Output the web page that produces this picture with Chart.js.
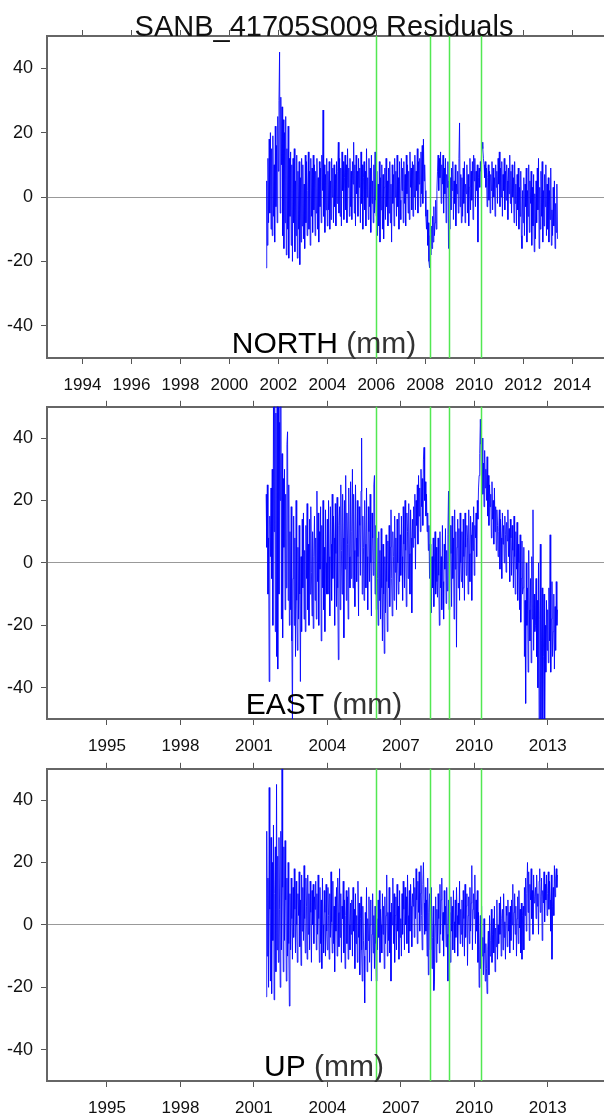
<!DOCTYPE html>
<html>
<head>
<meta charset="utf-8">
<script src="https://cdn.jsdelivr.net/npm/chart.js@4.4.1/dist/chart.umd.min.js"></script>
<style>
  html, body { margin: 0; padding: 0; background: #fff; }
  body { width: 604px; height: 1116px; position: relative; overflow: hidden; }
  canvas { position: absolute; left: 0; }
</style>
</head>
<body>
<canvas id="north" width="604" height="396" style="top:0px;width:604px;height:396px"></canvas>
<canvas id="east" width="604" height="370" style="top:388px;width:604px;height:370px"></canvas>
<canvas id="up" width="604" height="366" style="top:750px;width:604px;height:366px"></canvas>
<script>
const title = 'SANB_41705S009 Residuals';
const startYear = 2001.5;
const stepYear = 0.025;
const eventYears = [2006.0, 2008.2, 2008.98, 2010.29];
const northTicks = [1994, 1996, 1998, 2000, 2002, 2004, 2006, 2008, 2010, 2012, 2014];
const eastUpTicks = [1995, 1998, 2001, 2004, 2007, 2010, 2013];
const yTicks = [-40, -20, 0, 20, 40];

// residuals in mm, one row per half year
const northValues = [
  -22, 5, -15, 12, -8, 18, -5, 20, -10, 15, -12, 19, -6, 10, -14, 22, -3, 16, -8, 25,
  8, 30, 45, -5, 31, 10, 28, -12, 24, -16, 20, -8, 25, -18, 15, -10, 22, -19, 12, -6,
  14, -15, 10, -20, 12, -8, 15, -17, 5, -12, 13, -19, 8, -10, 11, -21, 6, -14, 12, -9,
  10, -13, 4, -16, 13, -8, 11, -12, 2, 14, -10, 8, -15, 12, -6, 9, -11, 13, -4, 10,
  -12, 8, -5, 12, -10, 6, -14, 11, -3, 9, -8, 13, 2, 27, -6, 10, -11, 7, -4, 12,
  -9, 8, -4, 11, -10, 5, -7, 12, 0, 9, -8, 10, -3, 7, -9, 11, -2, 8, 17, -5,
  12, -6, 9, -9, 14, 2, 11, -7, 6, 13, -4, 10, -8, 15, 3, 9, -6, 12, -3, 8,
  -7, 11, 4, 17, -5, 10, -9, 13, 1, 8, -6, 12, 3, 9, -8, 14, -2, 10, -10, 6,
  11, -4, 8, -9, 15, 0, 6, -7, 12, -3, 9, -11, 13, -2, 5, -8, 10, -5, 14, -1,
  -6, 8, -12, 4, -9, 11, -14, 6, -4, 10, -10, 7, -13, 3, 9, -7, 12, -3, 5, -9,
  9, -5, 11, -8, 4, -14, 10, -2, 7, -9, 12, 0, 8, -6, 13, -3, 6, -10, 11, -1,
  -7, 12, 2, 9, -8, 11, -2, 7, -9, 13, 1, 10, -5, 8, -7, 14, 3, 9, -4, 11,
  -6, 10, 0, 13, -4, 8, 2, 15, -5, 11, 4, 12, -3, 14, 1, 16, -2, 18, 5, 10,
  2, -6, -10, -4, -15, -8, -20, -22, -12, -18, -9, -16, -6, -14, -3, -12, -8, -1, -10, 2,
  8, 13, 2, 12, 6, 14, -2, 10, 4, 13, -5, 9, 1, 12, -8, 7, 3, 11, -16, 5,
  -10, 6, -4, 9, 2, 11, -7, 5, -2, 10, -9, 4, 1, 8, -5, 12, 23, -3, 7, -8,
  6, -6, 9, -2, 11, -8, 4, 1, 10, -5, 7, -9, 3, 12, -4, 8, -1, 11, -7, 13,
  5, 12, -3, 8, 2, 10, -14, 6, 9, 3, 11, 8, 14, 17, 15, 12, 10, 6, 11, 3,
  9, -3, 6, 10, -1, 8, -5, 7, 2, 11, -4, 9, 0, 6, -6, 10, 3, 8, -2, 12,
  4, 14, -3, 9, 0, 11, -6, 7, 2, 12, -4, 8, -1, 10, 5, -7, 9, 1, 13, -2,
  8, -5, 10, 0, 6, -8, 11, -2, 4, -9, 7, -4, 9, -10, 3, -6, 8, -12, -16, 2,
  -8, 6, -12, 4, -3, 9, -14, 2, -6, 10, -11, 5, -2, 8, -15, 3, -9, 7, -17, 1,
  -13, 5, -8, 9, -4, 12, -16, 3, -10, 8, -6, 11, -14, 2, -9, 7, -3, 10, -12, 4,
  -10, 6, -14, 2, -7, 9, -15, -4, -12, 3, -9, 5, -16, -2, -11, 4, -13
];

const eastValues = [
  22, 5, 25, -10, 8, -38, 15, 2, 24, -5, 30, -20, 50, 10, 55, -22, 48, -30, 52, -34,
  50, -10, 45, 20, 52, -18, 35, -24, 27, 5, 30, -15, 22, -8, 38, 42, -12, 25, -20, 10,
  -15, 18, -25, -50, -5, 15, -20, 8, -30, 20, -12, -28, 5, -18, 12, -10, -38, 2, -22, 14,
  -8, 16, -18, 4, -22, 12, -5, 19, -15, 6, -20, 14, -10, 18, -3, -17, 10, -21, 2, 15,
  -12, 8, -18, 23, -6, 16, -20, 10, -2, 18, -25, 12, -8, 20, -15, 5, -22, 17, 0, -10,
  14, -10, 20, 2, -17, 18, 6, -12, 22, -5, 15, 8, -20, 19, 3, -14, 21, -8, -31, 12,
  18, -15, 25, 4, -10, 22, 8, -24, 20, -2, 28, -12, 16, 6, -18, 24, 2, -8, 26, -5,
  10, 30, -8, 22, 4, -14, 25, 8, -6, 20, 2, -17, 18, 12, -4, 23, 40, -10, 15, 5,
  -12, 20, 6, -8, 24, 2, -15, 18, 10, -6, 22, 0, -17, 16, 8, -4, 25, 28, -10, 12,
  -15, 8, -5, -20, 10, -12, 4, -18, 11, -8, -25, 6, -10, -29, 2, -16, 9, -6, -22, 7,
  -8, 12, -14, 5, 17, -5, -17, 10, 2, -12, 15, -3, 8, -15, 14, 0, -10, 16, -6, 9,
  -4, 15, 2, -12, 18, 6, -8, 20, 4, -14, 16, 10, -5, 19, 3, -10, 17, 8, -16, 14,
  5, 18, 8, 22, -2, 20, 12, 25, 6, 28, 15, 24, 10, 30, 18, 27, 12, 33, 37, 20,
  26, 15, 22, 10, 16, 4, 12, -5, 6, -12, -16, 2, -8, 8, -14, 0, 10, -10, 5, -6,
  -11, 8, -4, -20, 10, -8, 2, -15, 12, -6, -18, 6, -2, 11, -13, 4, -9, 9, 23, -15,
  -10, 12, 3, -14, 15, -5, 8, -18, 17, -2, 10, -27, 5, 14, -8, 11, -12, 16, 0, -6,
  10, -8, 14, 2, -12, 16, 5, -4, 12, 8, -10, 17, 3, -6, 15, 9, -12, 13, 4, 18,
  -4, 12, 8, 16, 2, 20, 14, 24, 28, 35, 46, 38, 25, 40, 22, 32, 18, 36, 24, 30,
  20, 34, 15, 28, 12, 25, 18, 22, 8, 26, 14, 20, 6, 24, 10, 18, 4, 17, 12, 2,
  10, 17, -2, 14, 8, -5, 16, 6, 12, 0, 15, 9, -3, 13, 7, 17, 2, 11, -6, 14,
  8, -4, 12, 4, -8, 15, 2, -10, 10, -2, 13, -12, 6, 0, -15, 9, -19, -5, 7, -10,
  -8, 5, -30, -12, -45, 0, -20, -8, -35, 4, -15, -25, -5, -32, 2, -18, 17, -28, -10, -22,
  -20, -5, -30, -12, -40, 0, -50, -18, 6, -52, -25, -8, -50, -30, -10, -55, -20, -35, -12, -28,
  -15, -32, -8, -25, 9, -35, -18, -6, -30, -22, -10, -34, -14, -28, -6, -20, -15
];

const upValues = [
  -23, 30, -10, 15, -20, 44, 5, -18, 28, -22, 20, -5, 32, -24, 10, 25, -15, 45, -8, 22,
  -12, 28, 5, -20, 30, -8, 50, 12, -15, 25, -5, 27, 8, -18, 15, -10, 20, -6, -26, 10,
  -8, 15, 2, -11, 12, -4, 18, 5, -9, 14, 0, -12, 10, 3, 17, -7, 8, -13, 16, -2,
  12, -5, 19, 2, -9, 15, 6, -11, 16, -3, 10, -8, 14, 4, -12, 11, 0, 13, -6, 9,
  5, 14, -8, 10, -3, 16, 2, -12, 12, -6, 8, -14, 15, 0, -9, 11, 4, -10, 13, -2,
  -8, 12, 3, -11, 10, -4, 17, 1, -9, 14, -6, 6, -15, 9, -2, 12, -10, 15, 4, -7,
  18, -4, 10, -12, 6, 2, 14, -9, 8, -14, 3, 11, -6, 9, -11, 12, 0, -8, 7, -3,
  8, -10, 12, -2, 5, -14, 10, -6, 3, -12, 14, -4, 7, -16, 2, 9, -8, -18, 6, -5,
  -10, -25, 4, -8, 12, -15, 2, -5, 9, -12, 0, 8, -18, -3, 10, -9, 3, -14, 6, -6,
  -18, 2, -8, 8, -4, 11, -12, 5, 0, -9, 10, -3, 6, -14, 9, -6, 3, 16, -10, 4,
  -5, 12, -9, 4, -18, 7, 0, 15, -6, 10, -12, 3, 9, -8, 13, -2, 6, -11, 11, -4,
  2, -10, 10, -3, 14, 5, -8, 12, 0, 9, -6, 16, 3, -9, 11, -2, 13, 6, -7, 10,
  6, 15, -4, 12, 2, 18, 8, -6, 14, 4, 17, -2, 10, 19, 3, -8, 13, 20, 7, -3,
  12, -2, 8, -10, 15, -16, 4, 10, -8, 2, 12, -14, -4, 6, -21, -18, 0, 9, -12, 5,
  -6, 10, 2, -9, 13, -3, 8, 15, -5, 4, -10, 11, 0, 6, -7, 12, -3, -18, 8, -4,
  4, -12, 9, -2, 6, -8, 11, 1, -9, 8, -4, 12, 3, -10, 7, 0, 14, -6, 5, -3,
  8, -7, 11, 2, -10, 13, -4, 6, 10, -13, 3, 9, -6, 12, -2, 7, 19, -8, 5, 10,
  2, 16, -6, 8, -2, 11, -12, 4, -20, -8, 3, -14, 6, -10, -4, -16, 2, -9, -18, -6,
  -14, -22, -8, -2, -16, 3, -10, -5, 5, -12, -3, 2, -9, 6, -15, -1, -7, 8, -11, 0,
  -6, 7, -3, 9, -10, 2, 5, -8, 10, -4, 1, -11, 6, 3, -7, 8, -2, 4, -9, 6,
  -5, 8, 0, 13, -8, 4, 10, -3, 6, -10, 2, 9, -6, 11, -1, 5, -9, 7, -11, 3,
  6, -8, 12, 3, 15, -2, 10, 20, 4, 17, -5, 13, 8, 18, 2, 11, -3, 16, 7, 9,
  12, 2, 16, 6, 10, -3, 14, 18, 4, 9, 15, -5, 11, 7, 17, 1, 13, 8, 16, 3,
  10, 17, 5, 14, 8, -2, 16, -11, 6, 12, 3, 19, 9, 15, 18, 12, 16
];

const FONT = '"Liberation Sans", Arial, Helvetica, sans-serif';

function toPoints(values) {
  return values.map((v, i) => ({ x: startYear + i * stepYear, y: v }));
}

function makePanel(id, values, xTicks, name, topH, bottomH, withTitle) {
  const deco = {
    id: 'deco',
    afterDatasetsDraw(chart) {
      const { ctx, chartArea: a, scales } = chart;
      const x = scales.x;
      ctx.save();
      // event lines
      ctx.strokeStyle = '#52e852';
      ctx.lineWidth = 1.5;
      eventYears.forEach(yr => {
        const px = Math.round(x.getPixelForValue(yr)) + 0.5;
        ctx.beginPath();
        ctx.moveTo(px, a.top);
        ctx.lineTo(px, a.bottom);
        ctx.stroke();
      });
      // component label
      ctx.font = '30px ' + FONT;
      ctx.textBaseline = 'alphabetic';
      ctx.textAlign = 'left';
      const unit = ' (mm)';
      const w1 = ctx.measureText(name).width;
      const w2 = ctx.measureText(unit).width;
      let lx = 324 - (w1 + w2) / 2;
      const ly = a.bottom - 5;
      ctx.fillStyle = '#000';
      ctx.fillText(name, lx, ly);
      ctx.fillStyle = '#333';
      ctx.fillText(unit, lx + w1, ly);
      ctx.restore();
    },
    afterDraw(chart) {
      if (!withTitle) return;
      const { ctx, chartArea: a } = chart;
      ctx.save();
      ctx.font = '29px ' + FONT;
      ctx.fillStyle = '#111';
      ctx.textAlign = 'center';
      ctx.textBaseline = 'alphabetic';
      ctx.fillText(title, 324, a.top);
      ctx.restore();
    }
  };

  const xCommon = {
    type: 'linear',
    min: 1992.55,
    max: 2015.3,
    afterBuildTicks: s => { s.ticks = xTicks.map(v => ({ value: v })); },
    grid: { drawOnChartArea: false, drawTicks: true, tickLength: 6, tickColor: '#555', tickWidth: 1 },
    border: { display: true, color: '#666', width: 2 }
  };

  return new Chart(document.getElementById(id).getContext('2d'), {
    type: 'line',
    data: {
      datasets: [{
        data: toPoints(values),
        borderColor: 'rgba(0,0,255,0.85)',
        borderWidth: 1,
        pointRadius: 0,
        tension: 0,
        clip: 0
      }]
    },
    options: {
      responsive: false,
      animation: false,
      layout: { padding: 0 },
      plugins: { legend: { display: false }, tooltip: { enabled: false }, title: { display: false } },
      scales: {
        x: Object.assign({}, xCommon, {
          position: 'bottom',
          ticks: {
            autoSkip: false, maxRotation: 0, padding: 11, color: '#111',
            font: { family: FONT, size: 17 },
            callback: v => String(v)
          },
          afterFit: s => { s.height = bottomH; }
        }),
        xTop: Object.assign({}, xCommon, {
          position: 'top',
          ticks: { display: false },
          afterFit: s => { s.height = topH; }
        }),
        y: {
          type: 'linear',
          position: 'left',
          min: -50,
          max: 50,
          afterBuildTicks: s => { s.ticks = yTicks.map(v => ({ value: v })); },
          ticks: { padding: 8, color: '#111', font: { family: FONT, size: 18 } },
          grid: {
            drawOnChartArea: true,
            drawTicks: true,
            tickLength: 6,
            tickColor: '#555',
            color: c => (c.tick && c.tick.value === 0 ? '#999' : 'rgba(0,0,0,0)'),
            lineWidth: 1
          },
          border: { display: true, color: '#666', width: 2 },
          afterFit: s => { s.width = 47; }
        }
      }
    },
    plugins: [deco]
  });
}

makePanel('north', northValues, northTicks, 'NORTH', 36, 38, true);
makePanel('east', eastValues, eastUpTicks, 'EAST', 10, 39, false);
makePanel('up', upValues, eastUpTicks, 'UP', 10, 35, false);
</script>
</body>
</html>
